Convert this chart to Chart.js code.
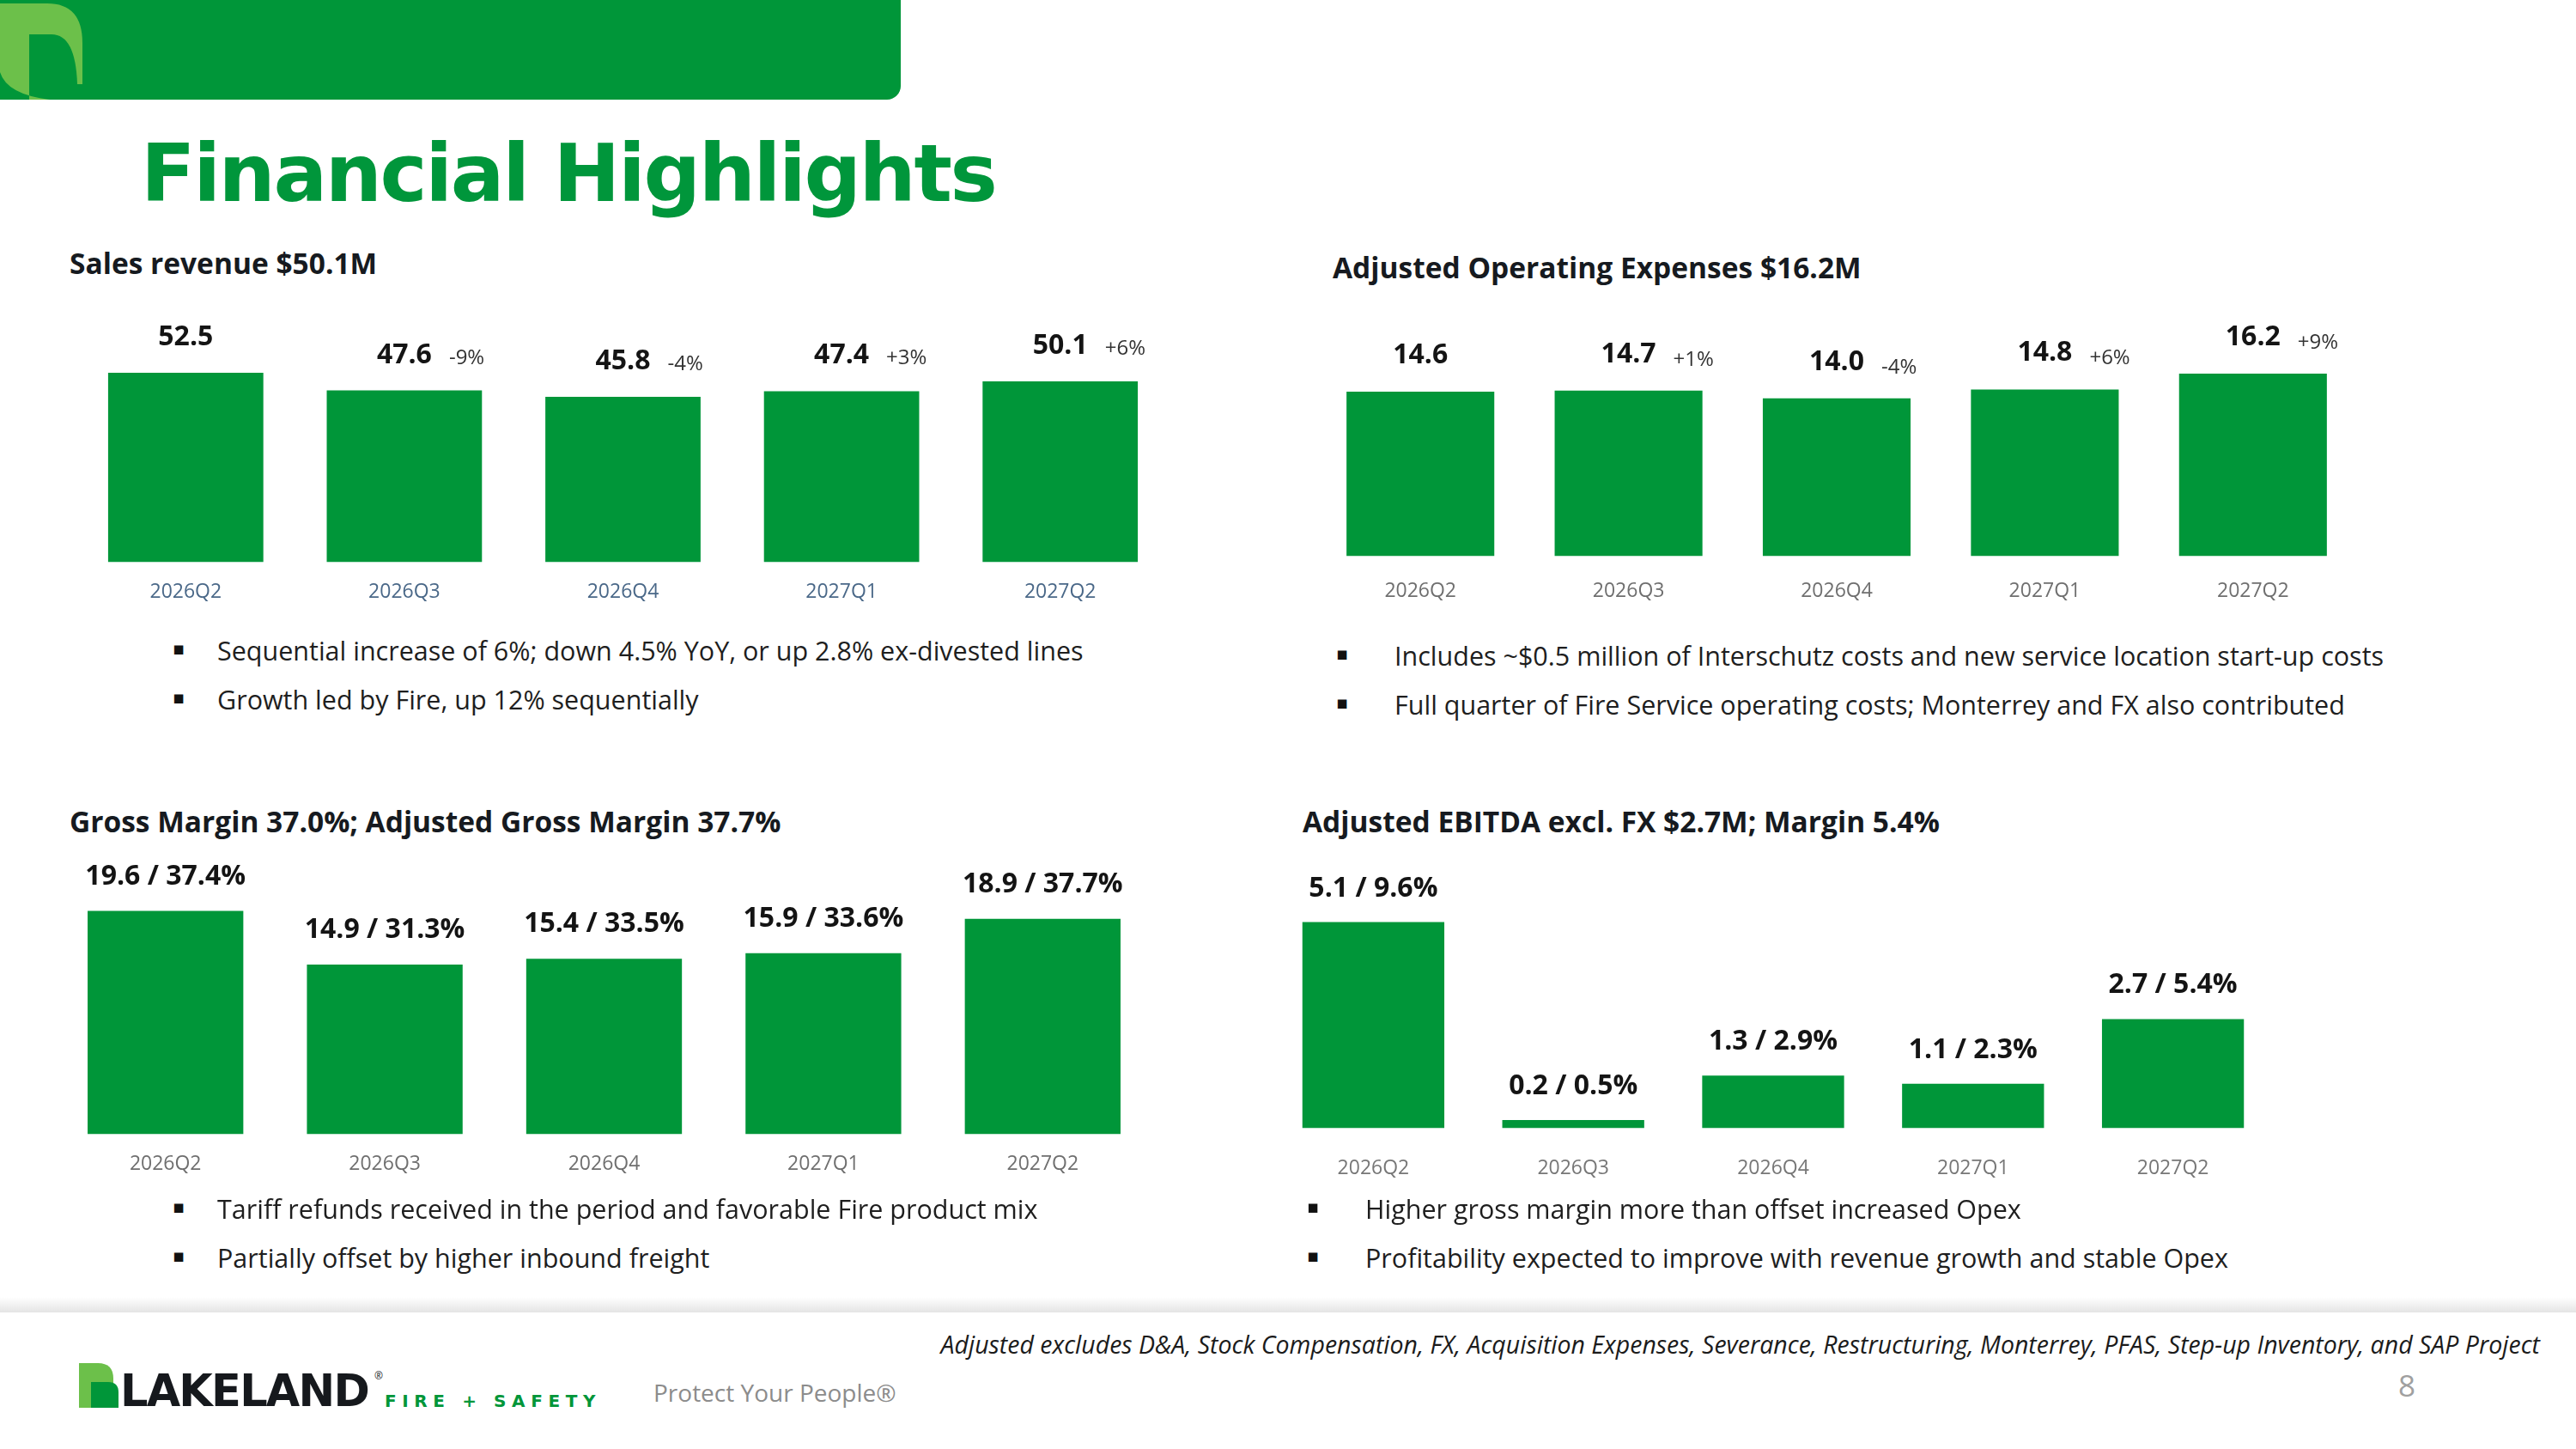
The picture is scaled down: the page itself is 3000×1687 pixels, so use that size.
<!DOCTYPE html>
<html>
<head>
<meta charset="utf-8">
<script src="https://cdn.jsdelivr.net/npm/chart.js@4.4.1/dist/chart.umd.min.js"></script>
<style>
  html, body { margin: 0; padding: 0; background: #fff; }
  body { width: 3000px; height: 1687px; position: relative; overflow: hidden; font-family: "Open Sans", sans-serif; color: #1b1b1b; }
  .abs { position: absolute; white-space: nowrap; line-height: 1; }
  .title { font-weight: 700; font-size: 33.5px; color: #161a20; }
  .bullet { font-size: 30.5px; color: #1e1e1e; }
  .dot { font-family: "DejaVu Sans", sans-serif; font-size: 21px; color: #111; }
  .chartbox { position: absolute; }
</style>
</head>
<body>

<!-- header band with leaf -->
<div class="abs" style="left:0;top:0;width:1049px;height:116px;background:#009639;border-bottom-right-radius:16px;"></div>
<svg class="abs" style="left:0;top:0;" width="100" height="116" viewBox="0 0 100 116">
  <path d="M0,4 L55,4 Q96,4 96,50 L96,98 L90,98 Q88,40 60,40 L34,40 L34,116 L58,116 Q8,110 0,84 Z" fill="#6cc04a"/>
</svg>

<div class="abs" style="left:164px;top:156px;font-family:'DejaVu Sans',sans-serif;font-weight:700;font-size:93px;letter-spacing:-2.4px;color:#00963b;">Financial Highlights</div>

<!-- section titles -->
<div class="abs title" style="left:81px;top:290px;">Sales revenue $50.1M</div>
<div class="abs title" style="left:1552px;top:295px;">Adjusted Operating Expenses $16.2M</div>
<div class="abs title" style="left:81px;top:940px;">Gross Margin 37.0%; Adjusted Gross Margin 37.7%</div>
<div class="abs title" style="left:1517px;top:940px;">Adjusted EBITDA excl. FX $2.7M; Margin 5.4%</div>

<!-- charts -->
<div class="chartbox" style="left:89px;top:350px;width:1273px;height:374px;"><canvas id="salesChart"></canvas></div>
<div class="chartbox" style="left:1533px;top:359px;width:1212px;height:370px;"><canvas id="opexChart"></canvas></div>
<div class="chartbox" style="left:65px;top:989px;width:1277px;height:401px;"><canvas id="marginChart"></canvas></div>
<div class="chartbox" style="left:1483px;top:1003px;width:1164px;height:404px;"><canvas id="ebitdaChart"></canvas></div>

<!-- bullets -->
<div class="abs dot" style="left:201px;top:745px;">▪</div>
<div class="abs bullet" style="left:253px;top:742px;">Sequential increase of 6%; down 4.5% YoY, or up 2.8% ex-divested lines</div>
<div class="abs dot" style="left:201px;top:802px;">▪</div>
<div class="abs bullet" style="left:253px;top:799px;">Growth led by Fire, up 12% sequentially</div>

<div class="abs dot" style="left:1556px;top:751px;">▪</div>
<div class="abs bullet" style="left:1624px;top:748px;">Includes ~$0.5 million of Interschutz costs and new service location start-up costs</div>
<div class="abs dot" style="left:1556px;top:808px;">▪</div>
<div class="abs bullet" style="left:1624px;top:805px;">Full quarter of Fire Service operating costs; Monterrey and FX also contributed</div>

<div class="abs dot" style="left:201px;top:1395px;">▪</div>
<div class="abs bullet" style="left:253px;top:1392px;">Tariff refunds received in the period and favorable Fire product mix</div>
<div class="abs dot" style="left:201px;top:1452px;">▪</div>
<div class="abs bullet" style="left:253px;top:1449px;">Partially offset by higher inbound freight</div>

<div class="abs dot" style="left:1522px;top:1395px;">▪</div>
<div class="abs bullet" style="left:1590px;top:1392px;">Higher gross margin more than offset increased Opex</div>
<div class="abs dot" style="left:1522px;top:1452px;">▪</div>
<div class="abs bullet" style="left:1590px;top:1449px;">Profitability expected to improve with revenue growth and stable Opex</div>

<!-- footer -->
<div class="abs" style="left:0;top:1510px;width:3000px;height:18px;background:linear-gradient(to bottom,#ffffff,#e4e4e4);"></div>
<div class="abs" style="right:42px;top:1551px;font-size:28.5px;font-style:italic;color:#1b1b1b;">Adjusted excludes D&amp;A, Stock Compensation, FX, Acquisition Expenses, Severance, Restructuring, Monterrey, PFAS, Step-up Inventory, and SAP Project</div>

<svg class="abs" style="left:92px;top:1587px;" width="52" height="52" viewBox="0 0 52 52">
  <path d="M0,0 L22,0 Q40,0 40,18 L40,52 L0,52 Z" fill="#6cc04a"/>
  <path d="M14,52 L14,22 L34,22 Q46,22 46,34 L46,52 Z" fill="#009639"/>
</svg>
<div class="abs" style="left:140px;top:1594px;font-family:'DejaVu Sans',sans-serif;font-weight:700;font-size:51px;letter-spacing:-1.8px;color:#16191d;">LAKELAND</div>
<div class="abs" style="left:436px;top:1596px;font-size:12px;color:#16191d;">®</div>
<div class="abs" style="left:448px;top:1621px;font-family:'DejaVu Sans',sans-serif;font-weight:700;font-size:20px;letter-spacing:6.6px;color:#009639;">FIRE + SAFETY</div>
<div class="abs" style="left:761px;top:1607px;font-size:28px;color:#8c8c8c;">Protect Your People®</div>
<div class="abs" style="left:2793px;top:1595px;font-size:35px;color:#a0a0a0;">8</div>

<script>
// quarters shown on every chart
const quarters = ['2026Q2', '2026Q3', '2026Q4', '2027Q1', '2027Q2'];

// $M values
const salesRevenue = [52.5, 47.6, 45.8, 47.4, 50.1];
const salesChange = ['', '-9%', '-4%', '+3%', '+6%'];

const opexValues = [14.6, 14.7, 14.0, 14.8, 16.2];
const opexChange = ['', '+1%', '-4%', '+6%', '+9%'];

const grossMargin = [19.6, 14.9, 15.4, 15.9, 18.9];
const grossMarginPct = ['37.4%', '31.3%', '33.5%', '33.6%', '37.7%'];

const ebitdaValues = [5.1, 0.2, 1.3, 1.1, 2.7];
const ebitdaPct = ['9.6%', '0.5%', '2.9%', '2.3%', '5.4%'];

const barGreen = '#009639';

// draws the value label over each bar, plus an optional small change label to its right
const barLabels = {
    id: 'barLabels',
    afterDatasetsDraw(chart, args, opts) {
        const ctx = chart.ctx;
        const meta = chart.getDatasetMeta(0);
        ctx.save();
        meta.data.forEach((bar, i) => {
            const main = opts.main[i];
            const y = bar.y - opts.offset;
            ctx.font = 'bold 32px "Open Sans"';
            ctx.fillStyle = '#141414';
            ctx.textAlign = 'center';
            ctx.textBaseline = 'alphabetic';
            ctx.fillText(main, bar.x, y);
            const side = opts.side ? opts.side[i] : '';
            if (side) {
                const w = ctx.measureText(main).width;
                ctx.font = '24px "Open Sans"';
                ctx.fillStyle = '#333333';
                ctx.textAlign = 'left';
                ctx.fillText(side, bar.x + w / 2 + 20, y + opts.sideDrop);
            }
        });
        ctx.restore();
    }
};

function makeChart(id, values, mainLabels, sideLabels, cfg) {
    const ctx = document.getElementById(id).getContext('2d');
    return new Chart(ctx, {
        type: 'bar',
        data: {
            labels: quarters,
            datasets: [{
                data: values,
                backgroundColor: barGreen,
                borderWidth: 0,
                barPercentage: 0.71,
                categoryPercentage: 1.0
            }]
        },
        options: {
            responsive: true,
            maintainAspectRatio: false,
            animation: false,
            events: [],
            layout: { padding: 0 },
            scales: {
                x: {
                    grid: { display: false, drawTicks: false },
                    border: { display: false },
                    ticks: {
                        color: cfg.tickColor,
                        padding: cfg.tickPadding,
                        font: { family: 'Open Sans', size: 23 }
                    }
                },
                y: {
                    display: false,
                    min: 0,
                    max: cfg.max
                }
            },
            plugins: {
                legend: { display: false },
                tooltip: { enabled: false },
                barLabels: {
                    main: mainLabels,
                    side: sideLabels,
                    offset: cfg.offset,
                    sideDrop: cfg.sideDrop || 0
                }
            }
        },
        plugins: [barLabels]
    });
}

makeChart('salesChart', salesRevenue, salesRevenue.map(v => v.toFixed(1)), salesChange,
    { max: 72.5, tickPadding: 21, tickColor: '#4a6888', offset: 32, sideDrop: 1 });

makeChart('opexChart', opexValues, opexValues.map(v => v.toFixed(1)), opexChange,
    { max: 22, tickPadding: 27, tickColor: '#6f6f6f', offset: 33, sideDrop: 4 });

makeChart('marginChart', grossMargin, grossMargin.map((v, i) => v.toFixed(1) + ' / ' + grossMarginPct[i]), null,
    { max: 25, tickPadding: 21, tickColor: '#6f6f6f', offset: 31 });

makeChart('ebitdaChart', ebitdaValues, ebitdaValues.map((v, i) => v.toFixed(1) + ' / ' + ebitdaPct[i]), null,
    { max: 6.6, tickPadding: 33, tickColor: '#777777', offset: 30 });
</script>
</body>
</html>
